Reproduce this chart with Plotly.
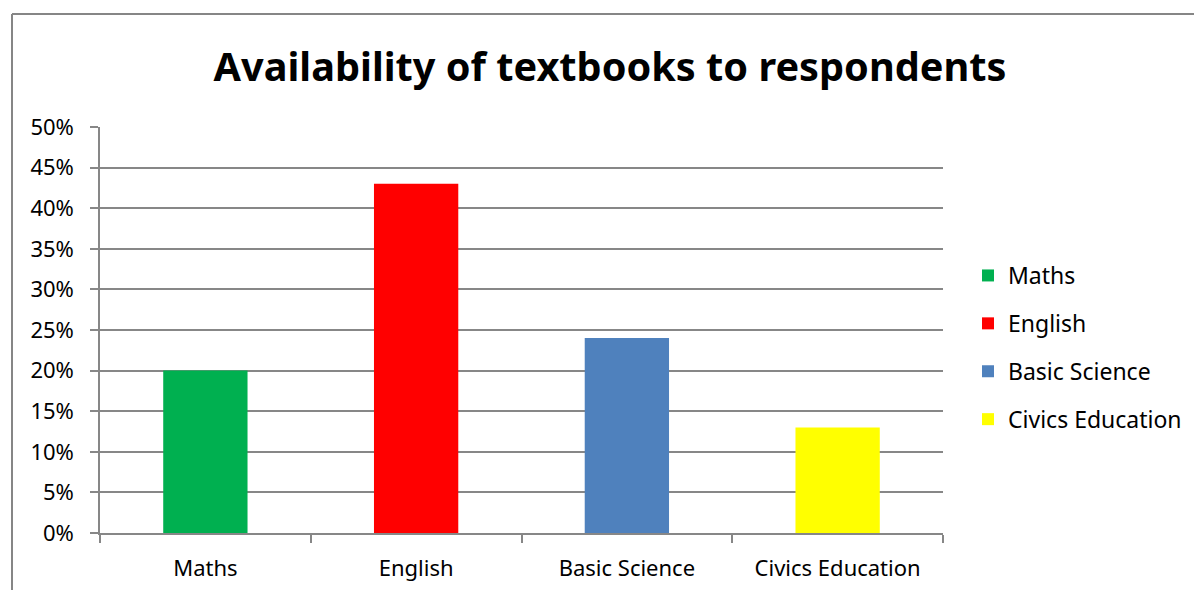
import plotly.graph_objects as go

categories = ["Maths", "English", "Basic Science", "Civics Education"]
values = [0.20, 0.43, 0.24, 0.13]
colors = ["#00B050", "#FF0000", "#4F81BD", "#FFFF00"]
y_ticks = [i * 0.05 for i in range(11)]

FONT = "Noto Sans"
W, H = 1194, 590
L, R, T, B = 100, 251, 127, 57
pw, ph = W - L - R, H - T - B

fig = go.Figure()
for i, (c, v, col) in enumerate(zip(categories, values, colors)):
    fig.add_trace(go.Bar(
        x=[c], y=[v], name=c, marker=dict(color=col, line=dict(width=0)),
        legendgroup=f"g{i}", showlegend=True,
    ))

def px_x(p):
    return (p - L) / pw

def px_y(p):
    return (H - B - p) / ph

grid = "#878787"
fig.update_layout(
    width=W, height=H,
    margin=dict(l=L, r=R, t=T, b=B, autoexpand=False),
    paper_bgcolor="white", plot_bgcolor="white",
    barmode="overlay", bargap=0.6,
    title=dict(text="<b>Availability of textbooks to respondents</b>",
               x=610 / W, xanchor="center", y=1 - 67 / H, yanchor="middle",
               font=dict(family=FONT, size=39.7, color="black")),
    font=dict(family=FONT, size=22, color="black"),
    xaxis=dict(categoryorder="array", categoryarray=categories,
               showline=True, linecolor=grid, linewidth=1.5,
               ticks="outside", tickson="boundaries", ticklen=8, tickcolor=grid,
               tickwidth=1.5, showgrid=False, ticklabelstandoff=15,
               tickfont=dict(family=FONT, size=22)),
    yaxis=dict(range=[0, 0.5], tickvals=y_ticks, tickformat=".0%",
               showline=True, linecolor=grid, linewidth=1.5,
               ticks="outside", ticklen=8, tickcolor=grid, tickwidth=1.5,
               showgrid=True, gridcolor=grid, gridwidth=1.5,
               ticklabelstandoff=12,
               zeroline=False, tickfont=dict(family=FONT, size=22)),
    legend=dict(x=px_x(968), xanchor="left", y=px_y(254), yanchor="top",
                tracegroupgap=15, font=dict(family=FONT, size=23),
                bgcolor="rgba(0,0,0,0)"),
    shapes=[
        dict(type="line", xref="paper", yref="paper",
             x0=px_x(12), x1=px_x(W + 5), y0=px_y(14), y1=px_y(14),
             line=dict(color="#868686", width=2)),
        dict(type="line", xref="paper", yref="paper",
             x0=px_x(12), x1=px_x(12), y0=px_y(14), y1=px_y(H + 5),
             line=dict(color="#868686", width=2)),
    ],
)

fig.write_html("out.html")
